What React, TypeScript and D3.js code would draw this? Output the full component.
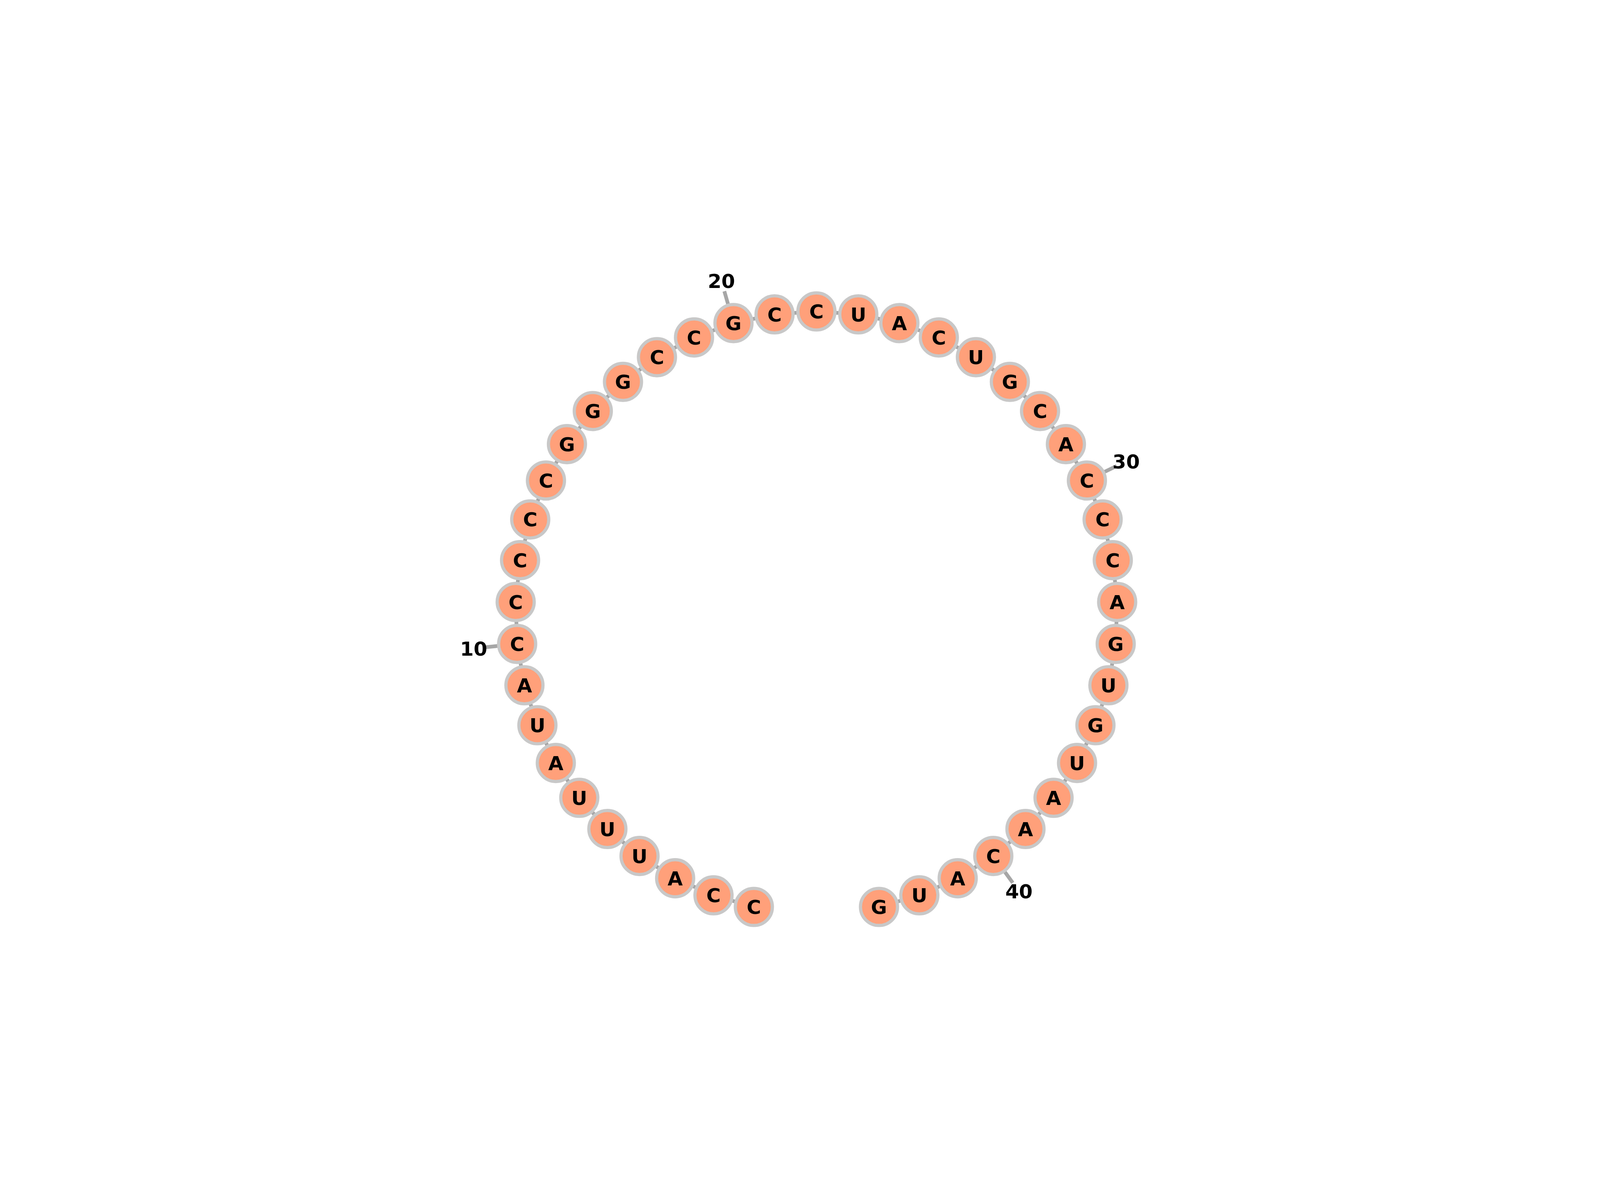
import * as d3 from "d3";

const W = 6040;
const H = 3048;

// nucleotide sequence, 5' to 3'
const sequence = "CCAUUUAUACCCCCGGGCCGCCUACUGCACCCAGUGUAACAUG".split("");
// positions that carry a number label
const labelPositions = [10, 20, 30, 40];

const cx = 3082;
const cy = 1588;
const R = 1136;
const nodeR = 70;

export default function App() {
  const n = sequence.length;
  const gap = 24; // degrees left open between the ends
  const angle = d3
    .scaleLinear()
    .domain([1, n])
    .range([gap / 2, 360 - gap / 2]);

  // angle measured from straight down, going clockwise (via left side)
  const pos = (i: number, r = R) => {
    const a = (angle(i) * Math.PI) / 180;
    return [cx - r * Math.sin(a), cy + r * Math.cos(a)];
  };

  const nodes = sequence.map((s, k) => {
    const [x, y] = pos(k + 1);
    return { s, i: k + 1, x, y };
  });

  return (
    <svg
      viewBox={`0 0 ${W} ${H}`}
      preserveAspectRatio="xMidYMid meet"
      style={{
        position: "fixed",
        left: 0,
        top: 0,
        width: "100vw",
        height: "100vh",
        display: "block",
        background: "white",
      }}
    >
      <g stroke="#a6a6a6" strokeWidth={14}>
        {nodes.slice(1).map((d, k) => (
          <line key={k} x1={nodes[k].x} y1={nodes[k].y} x2={d.x} y2={d.y} />
        ))}
        {labelPositions.map((p) => {
          const [x1, y1] = pos(p);
          const [x2, y2] = pos(p, R + 125);
          return <line key={p} x1={x1} y1={y1} x2={x2} y2={y2} />;
        })}
      </g>
      {nodes.map((d) => (
        <g key={d.i} transform={`translate(${d.x},${d.y})`}>
          <circle r={nodeR} fill="#ffa07a" stroke="#c8c8c8" strokeWidth={12} />
          <text
            textAnchor="middle"
            dy="0.36em"
            fontFamily="DejaVu Sans"
            fontWeight="bold"
            fontSize={74}
            fill="#000"
          >
            {d.s}
          </text>
        </g>
      ))}
      {labelPositions.map((p) => {
        const [x, y] = pos(p, R + 165);
        return (
          <text
            key={p}
            x={x}
            y={y}
            textAnchor="middle"
            dy="0.36em"
            fontFamily="DejaVu Sans"
            fontWeight="bold"
            fontSize={74}
            fill="#000"
          >
            {p}
          </text>
        );
      })}
    </svg>
  );
}
